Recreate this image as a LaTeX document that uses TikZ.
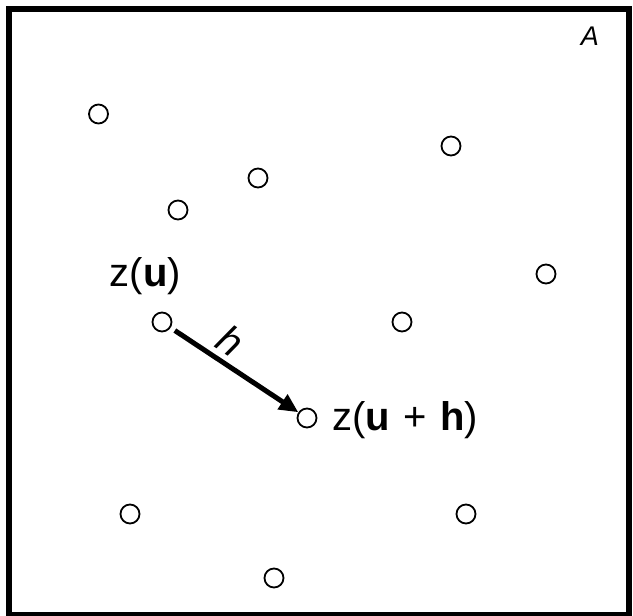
\documentclass[tikz,border=0pt]{standalone}
\usepackage{fontspec}
\setmainfont{Liberation Sans}
\usetikzlibrary{arrows.meta}
\tikzset{
  pt/.style={circle, draw, line width=1.8pt, minimum size=19pt, inner sep=0pt, fill=white},
  frame/.style={line width=6pt},
  vec/.style={line width=5pt, -{Triangle[length=19pt,width=17pt]}, shorten <=5pt},
  lbl/.style={inner sep=0pt, font=\fontsize{40}{44}\selectfont}
}
\begin{document}
\begin{tikzpicture}[x=1pt,y=1pt]
\useasboundingbox (0,0) rectangle (633,-616);
\draw[frame] (9,-9) rectangle (629,-615);
\node[inner sep=0pt, font=\fontsize{27}{30}\selectfont\itshape] (A) at (590,-36) {A};
\node[pt] (p1) at (98.5,-114) {};
\node[pt] (p2) at (451,-146) {};
\node[pt] (p3) at (258,-178) {};
\node[pt] (p4) at (178,-210) {};
\node[pt] (p5) at (546,-274) {};
\node[pt] (u) at (162,-322) {};
\node[pt] (p6) at (402,-322) {};
\node[pt] (uh) at (307,-418) {};
\node[pt] (p7) at (130,-514) {};
\node[pt] (p8) at (466,-514) {};
\node[pt] (p9) at (274,-578) {};
\draw[vec] (u) -- (uh);
\node[lbl] (lu) at (145.5,-276) {z(\textbf{u})};
\node[lbl] (luh) at (405,-420) {z(\textbf{u}\,\,+\,\,\textbf{h})};
\node[inner sep=0pt, rotate=-33.5, font=\fontsize{40}{44}\selectfont\itshape] (h) at (231,-341) {h};
\end{tikzpicture}
\end{document}
